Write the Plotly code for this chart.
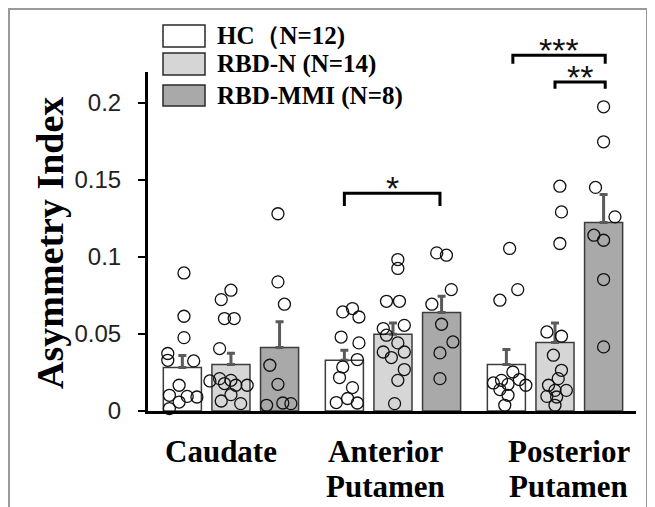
import plotly.graph_objects as go

# ---------------- data ----------------
region_lines = [["Caudate"], ["Anterior", "Putamen"], ["Posterior", "Putamen"]]
groups = ["HC（N=12)", "RBD-N (N=14)", "RBD-MMI (N=8)"]

hc_mean = [0.0282, 0.0329, 0.0301]
rbdn_mean = [0.0301, 0.0498, 0.0444]
mmi_mean = [0.0412, 0.0639, 0.1223]

hc_err = [0.0078, 0.0065, 0.0098]
rbdn_err = [0.0074, 0.0073, 0.0127]
mmi_err = [0.0168, 0.0106, 0.0182]

# individual subjects (values) and horizontal jitter (in category units)
hc_caudate = [0.0896, 0.0615, 0.0476, 0.0373, 0.0329, 0.0325, 0.0167, 0.0102, 0.0095, 0.0091, 0.0058, 0.0016]
hc_caudate_j = [0.01, 0.01, 0.01, -0.09, -0.09, 0.07, -0.02, -0.08, 0.03, 0.09, -0.02, -0.08]
hc_ant = [0.0643, 0.0665, 0.0610, 0.0480, 0.0442, 0.0334, 0.0286, 0.0217, 0.0152, 0.0081, 0.0055, 0.0052]
hc_ant_j = [-0.01, 0.05, 0.09, -0.02, 0.09, 0.08, -0.01, -0.03, 0.05, 0.02, -0.05, 0.08]
hc_post = [0.1055, 0.0788, 0.0719, 0.0253, 0.0182, 0.0199, 0.0173, 0.0204, 0.0167, 0.0139, 0.0102, 0.0037]
hc_post_j = [0.02, 0.07, -0.04, 0.04, -0.08, -0.03, 0.01, 0.08, 0.12, -0.04, 0.01, -0.01]

rbdn_caudate = [0.0784, 0.0723, 0.0600, 0.0600, 0.0405, 0.0195, 0.0210, 0.0178, 0.0199, 0.0167, 0.0167, 0.0106, 0.0065, 0.0048]
rbdn_caudate_j = [0.00, -0.06, -0.04, 0.02, -0.07, -0.13, -0.07, -0.04, 0.00, 0.03, 0.10, 0.00, -0.06, 0.06]
rbdn_ant = [0.0983, 0.0925, 0.0712, 0.0712, 0.0535, 0.0556, 0.0492, 0.0442, 0.0383, 0.0383, 0.0347, 0.0269, 0.0199, 0.0048]
rbdn_ant_j = [0.03, 0.03, -0.04, 0.04, -0.06, 0.07, -0.04, 0.03, -0.06, 0.07, -0.01, 0.07, 0.03, 0.01]
rbdn_post = [0.1459, 0.1292, 0.1087, 0.0513, 0.0485, 0.0362, 0.0264, 0.0210, 0.0167, 0.0134, 0.0134, 0.0095, 0.0091, 0.0037]
rbdn_post_j = [0.03, 0.04, 0.03, -0.05, 0.04, -0.01, 0.04, 0.02, -0.04, 0.07, 0.00, -0.05, 0.01, 0.00]

mmi_caudate = [0.1280, 0.0838, 0.0693, 0.0297, 0.0173, 0.0037, 0.0052, 0.0048]
mmi_caudate_j = [-0.01, -0.01, 0.03, -0.06, -0.01, -0.08, 0.02, 0.07]
mmi_ant = [0.1026, 0.1011, 0.0788, 0.0693, 0.0563, 0.0448, 0.0377, 0.0210]
mmi_ant_j = [-0.03, 0.03, 0.06, -0.06, 0.00, 0.07, -0.01, -0.01]
mmi_post = [0.1974, 0.1747, 0.1451, 0.1260, 0.1141, 0.1108, 0.0853, 0.0416]
mmi_post_j = [0.00, 0.00, -0.05, 0.07, -0.06, 0.00, 0.00, 0.00]

# significance brackets: (x start, x end, bracket height, tip height, label)
brackets = [
    (0.70, 1.29, 0.1413, 0.1330, "*"),
    (1.74, 2.31, 0.2309, 0.2254, "***"),
    (2.00, 2.31, 0.2135, 0.2092, "**"),
]

# ---------------- style ----------------
colors = ["#ffffff", "#d6d6d6", "#a9a9a9"]
offsets = [-0.30, 0.0, 0.30]
XMIN, XMAX = -0.512, 2.50
YMAX = 0.22
PAGE_OFF = 8                     # default page margin around the figure
W, H = 655 - PAGE_OFF, 507 - PAGE_OFF
PL, PR, PT, PB = 148, 636, 72, 411   # plot area edges in page pixels
ML, MT = PL - PAGE_OFF, PT - PAGE_OFF
MR, MB = (W + PAGE_OFF) - PR, (H + PAGE_OFF) - PB
PW, PH = PR - PL, PB - PT
SERIF = "Liberation Serif, Times New Roman, serif"
SANS = "Liberation Sans, Arial, sans-serif"


def px_x(p):
    return (p - PL) / PW


def px_y(p):
    return (PB - p) / PH


def dx(x):
    return (x - XMIN) / (XMAX - XMIN)


def dy(v):
    return v / YMAX


fig = go.Figure()

means = [hc_mean, rbdn_mean, mmi_mean]
errs = [hc_err, rbdn_err, mmi_err]
for i in range(3):
    fig.add_trace(go.Bar(
        x=[0, 1, 2], y=means[i], name=groups[i],
        marker=dict(color=colors[i], line=dict(color="#3c3c3c", width=1.5)),
        error_y=dict(type="data", array=errs[i], arrayminus=[0, 0, 0], symmetric=False,
                     color="#5a5a5a", thickness=3, width=4),
        showlegend=False,
    ))

points = [
    [(hc_caudate, hc_caudate_j), (hc_ant, hc_ant_j), (hc_post, hc_post_j)],
    [(rbdn_caudate, rbdn_caudate_j), (rbdn_ant, rbdn_ant_j), (rbdn_post, rbdn_post_j)],
    [(mmi_caudate, mmi_caudate_j), (mmi_ant, mmi_ant_j), (mmi_post, mmi_post_j)],
]
for i in range(3):
    xs, ys = [], []
    for g in range(3):
        vals, jit = points[i][g]
        for v, j in zip(vals, jit):
            xs.append(g + offsets[i] + j)
            ys.append(v)
    fig.add_trace(go.Scatter(
        x=xs, y=ys, mode="markers", showlegend=False, cliponaxis=False,
        marker=dict(symbol="circle", size=12, color="rgba(0,0,0,0)",
                    line=dict(color="#111111", width=1.3)),
    ))

shapes = []
annotations = []

# brackets
for x0, x1, yb, yt, lab in brackets:
    path = (f"M {dx(x0)},{dy(yt)} L {dx(x0)},{dy(yb)} "
            f"L {dx(x1)},{dy(yb)} L {dx(x1)},{dy(yt)}")
    shapes.append(dict(type="path", xref="paper", yref="paper", path=path,
                       line=dict(color="black", width=3)))
    annotations.append(dict(x=(x0 + x1) / 2, y=dy(yb), xref="x", yref="paper",
                            text=lab, showarrow=False, yanchor="middle", valign="top",
                            height=22, yshift=13, borderpad=0,
                            font=dict(family=SANS, size=34, color="#111111")))

# manual legend
leg_rows = [(25, 47), (53, 75), (85, 106)]
for i, (t, b) in enumerate(leg_rows):
    shapes.append(dict(type="rect", xref="paper", yref="paper",
                       x0=px_x(163), x1=px_x(205), y0=px_y(b), y1=px_y(t),
                       fillcolor=colors[i], line=dict(color="#2a2a2a", width=1.5)))
    annotations.append(dict(x=px_x(215), y=px_y((t + b) / 2), xref="paper", yref="paper",
                            text=f"<b>{groups[i]}</b>", showarrow=False,
                            xanchor="left", yanchor="middle",
                            font=dict(family=SERIF, size=25, color="black")))

# category labels (one annotation per line)
label_shift = [-10, -7, 14]
for g in range(3):
    for k, line in enumerate(region_lines[g]):
        annotations.append(dict(x=g, y=0, xref="x", yref="paper", text=f"<b>{line}</b>",
                                showarrow=False, xanchor="center", yanchor="middle",
                                valign="middle", height=30, borderpad=0,
                                xshift=label_shift[g], yshift=-40 - 35 * k,
                                font=dict(family=SERIF, size=31, color="black")))

# y title
annotations.append(dict(x=px_x(50), y=px_y(243), xref="paper", yref="paper",
                        text="<b>Asymmetry Index</b>", textangle=-90, showarrow=False,
                        xanchor="center", yanchor="middle",
                        font=dict(family=SERIF, size=38, color="black")))

# outer frame
shapes.append(dict(type="rect", xref="paper", yref="paper",
                   x0=px_x(9), x1=px_x(647), y0=px_y(540), y1=px_y(9),
                   line=dict(color="#9a9a9a", width=2), fillcolor="rgba(0,0,0,0)"))

fig.update_layout(
    width=W, height=H,
    margin=dict(l=ML, r=MR, t=MT, b=MB, pad=0),
    paper_bgcolor="white", plot_bgcolor="white",
    barmode="group", bargap=0.10, bargroupgap=0.217,
    shapes=shapes, annotations=annotations,
    xaxis=dict(range=[XMIN, XMAX], showline=True, linecolor="black", linewidth=3,
               showticklabels=False, ticks="", showgrid=False, zeroline=False),
    yaxis=dict(range=[0, YMAX], showline=True, linecolor="black", linewidth=3,
               tickvals=[0, 0.05, 0.1, 0.15, 0.2], ticktext=["0", "0.05", "0.1", "0.15", "0.2"],
               ticks="outside", ticklen=7, tickwidth=2, tickcolor="black",
               ticklabelstandoff=12,
               tickfont=dict(family=SANS, size=24, color="#222222"),
               showgrid=False, zeroline=False),
)

fig.write_html("out.html")
